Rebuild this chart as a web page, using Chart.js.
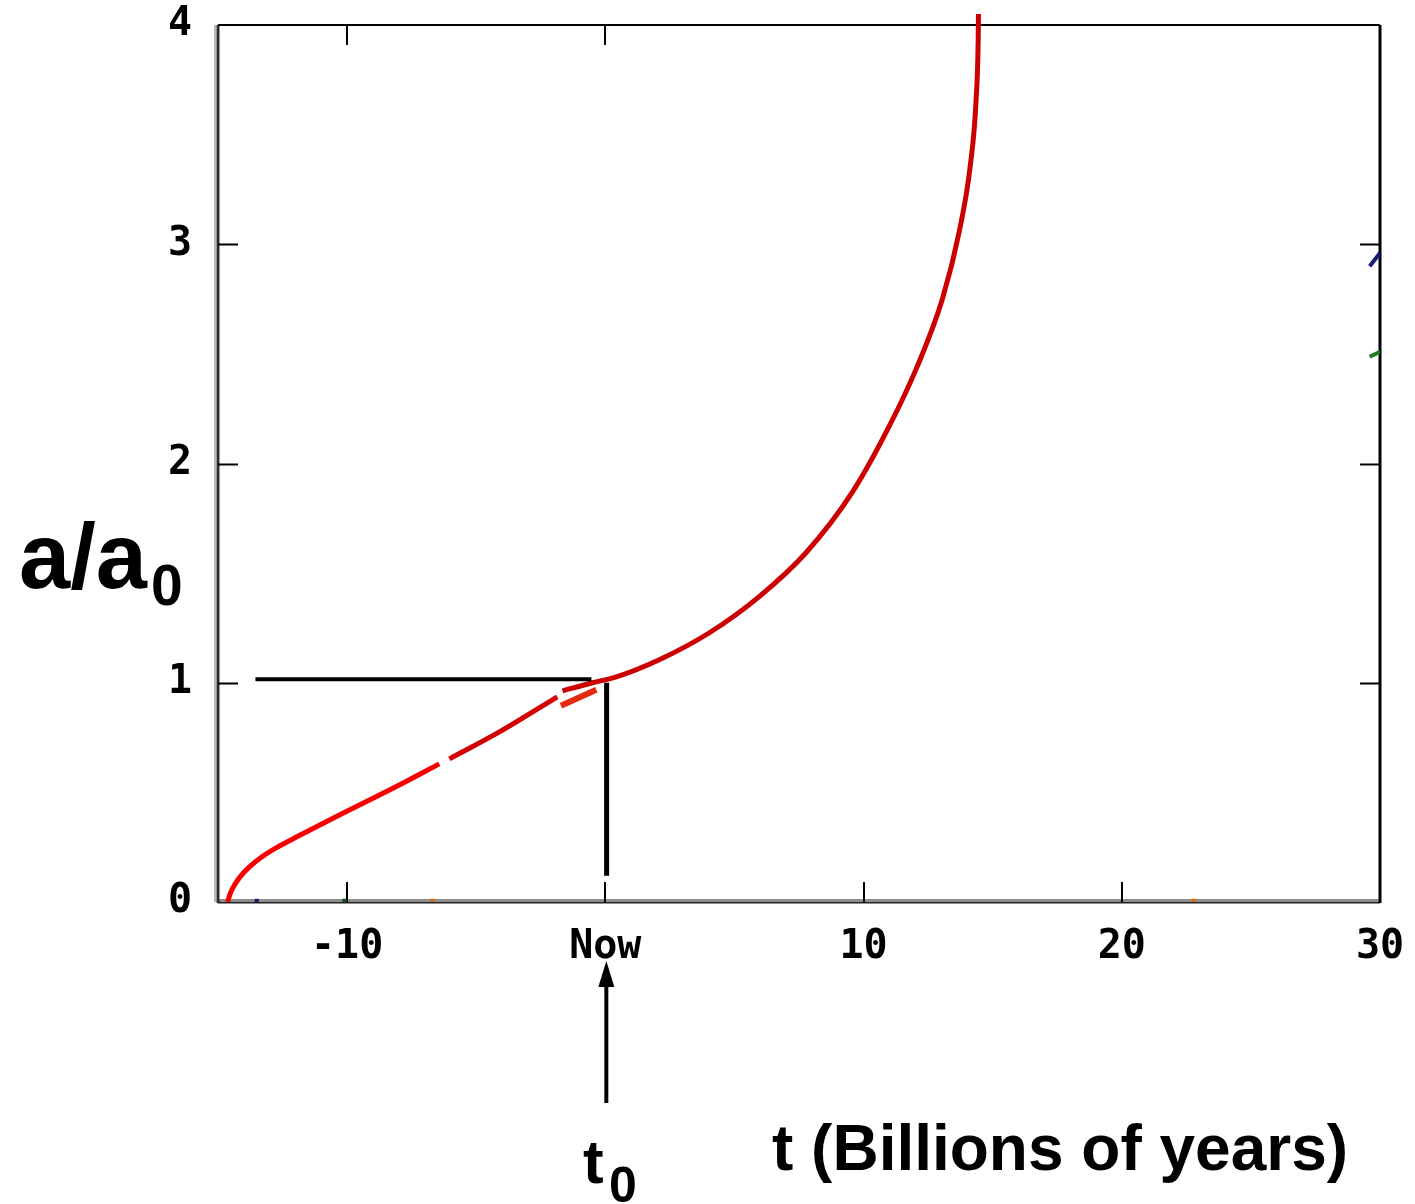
<!DOCTYPE html>
<html>
<head>
<meta charset="utf-8">
<script src="https://cdn.jsdelivr.net/npm/chart.js@4/dist/chart.umd.min.js"></script>
<style>
  html, body { margin: 0; padding: 0; background: #fff; }
  #wrap { position: relative; width: 1415px; height: 1204px; overflow: hidden; }
  canvas { position: absolute; left: 0; top: 0; }
  .lbl { position: absolute; font-family: "Liberation Sans", Arial, sans-serif; font-weight: bold; color: #000; line-height: 1; white-space: nowrap; }
</style>
</head>
<body>
<div id="wrap">
  <canvas id="c" width="1415" height="1204"></canvas>
  <div class="lbl" style="left:19px; top:510px; font-size:92px;">a/a</div>
  <div class="lbl" style="left:151px; top:557px; font-size:57px;">0</div>
  <div class="lbl" style="left:772px; top:1116px; font-size:64px;">t (Billions of years)</div>
  <div class="lbl" style="left:583px; top:1131px; font-size:62px;">t</div>
  <div class="lbl" style="left:609px; top:1160px; font-size:50px;">0</div>
</div>
<script>
// Axis ticks
const xTickValues = [-10, 0, 10, 20, 30];
const xTickLabels = ['-10', 'Now', '10', '20', '30'];
const yTickValues = [0, 1, 2, 3, 4];

// Scale factor a/a0 against time t (billions of years)
const earlyT = [-14.63, -14.52, -14.36, -14.13, -13.78, -13.32, -12.70, -11.85, -10.30, -7.98, -6.43];
const earlyA = [0.0, 0.041, 0.078, 0.117, 0.160, 0.204, 0.250, 0.303, 0.397, 0.534, 0.630];
const midT = [-6.04, -4.10, -1.86];
const midA = [0.653, 0.776, 0.936];
const futureT = [-1.66, -0.50, 0.43, 2.09, 4.03, 5.96, 7.78, 9.56, 10.99, 12.08, 13.05, 13.70, 14.13, 14.36, 14.44, 14.45];
const futureA = [0.963, 1.0, 1.027, 1.105, 1.228, 1.393, 1.594, 1.868, 2.169, 2.443, 2.749, 3.055, 3.356, 3.662, 3.936, 4.05];
const smearT = [-1.72, -0.35];
const smearA = [0.895, 0.968];

// Reference lines marking today (t0, a0)
const nowLevelT = [-13.55, -0.54];
const nowLevelA = [1.016, 1.016];
const nowDropT = [0.05, 0.05];
const nowDropA = [1.0, 0.12];

// Short pieces of other curves at the right edge
const blueT = [29.6, 30];
const blueA = [2.90, 2.96];
const greenT = [29.6, 30];
const greenA = [2.487, 2.51];

// Small marks sitting on the time axis
const axisMarkT = [-13.5, -10.1, -6.7, 22.8];
const axisMarkA = [0.005, 0.005, 0.005, 0.005];
const axisMarkColors = ['#1a1a6e', '#1f4a1f', '#e06a10', '#e06a10'];

const pts = (xs, ys) => xs.map((x, i) => ({ x: x, y: ys[i] }));

function line(data, color, width, extra) {
  return Object.assign({
    type: 'line', data: data, borderColor: color, backgroundColor: color,
    borderWidth: width, pointRadius: 0, fill: false, tension: 0, borderCapStyle: 'butt'
  }, extra || {});
}
const smooth = { cubicInterpolationMode: 'monotone' };

function noPadding(s) {
  s.paddingTop = 0; s.paddingBottom = 0; s.paddingLeft = 0; s.paddingRight = 0;
}

const framePlugin = {
  id: 'frame',
  beforeDatasetsDraw(chart) {
    const ctx = chart.ctx, a = chart.chartArea;
    const xs = chart.scales.x, ys = chart.scales.y;
    ctx.save();
    // soft halo on the left and bottom edges
    ctx.strokeStyle = '#b8b8b8'; ctx.lineWidth = 2;
    ctx.beginPath(); ctx.moveTo(a.left - 3, a.top); ctx.lineTo(a.left - 3, a.bottom); ctx.stroke();
    ctx.strokeStyle = '#8c8c8c'; ctx.lineWidth = 2;
    ctx.beginPath(); ctx.moveTo(a.left, a.bottom - 2); ctx.lineTo(a.right, a.bottom - 2); ctx.stroke();
    // plot border
    ctx.strokeStyle = '#2e2e2e'; ctx.lineWidth = 3;
    ctx.beginPath(); ctx.moveTo(a.left, a.top); ctx.lineTo(a.left, a.bottom + 1); ctx.stroke();
    ctx.strokeStyle = '#222'; ctx.lineWidth = 2;
    ctx.beginPath(); ctx.moveTo(a.left, a.bottom + 0.5); ctx.lineTo(a.right, a.bottom + 0.5); ctx.stroke();
    ctx.strokeStyle = '#000'; ctx.lineWidth = 2;
    ctx.beginPath(); ctx.moveTo(a.left, a.top); ctx.lineTo(a.right, a.top); ctx.stroke();
    ctx.strokeStyle = '#000'; ctx.lineWidth = 3;
    ctx.beginPath(); ctx.moveTo(a.right, a.top); ctx.lineTo(a.right, a.bottom + 1); ctx.stroke();
    // inward tick marks
    ctx.strokeStyle = '#000'; ctx.lineWidth = 2;
    [1, 2, 3].forEach(v => {
      const y = Math.round(ys.getPixelForValue(v)) + 0.5;
      ctx.beginPath(); ctx.moveTo(a.left, y); ctx.lineTo(a.left + 20, y); ctx.stroke();
      ctx.beginPath(); ctx.moveTo(a.right - 20, y); ctx.lineTo(a.right, y); ctx.stroke();
    });
    [-10, 0, 10, 20].forEach(v => {
      const x = Math.round(xs.getPixelForValue(v));
      ctx.beginPath(); ctx.moveTo(x, a.bottom); ctx.lineTo(x, a.bottom - 20); ctx.stroke();
    });
    [-10, 0].forEach(v => {
      const x = Math.round(xs.getPixelForValue(v));
      ctx.beginPath(); ctx.moveTo(x, a.top); ctx.lineTo(x, a.top + 20); ctx.stroke();
    });
    ctx.restore();
  },
  afterDraw(chart) {
    // arrow pointing up at "Now"
    const ctx = chart.ctx;
    const x = chart.scales.x.getPixelForValue(0) + 1;
    ctx.save();
    ctx.strokeStyle = '#000'; ctx.fillStyle = '#000'; ctx.lineWidth = 4;
    ctx.beginPath(); ctx.moveTo(x, 1103); ctx.lineTo(x, 984); ctx.stroke();
    ctx.beginPath(); ctx.moveTo(x, 961); ctx.lineTo(x - 8, 987); ctx.lineTo(x + 8, 987); ctx.closePath(); ctx.fill();
    ctx.restore();
  }
};

new Chart(document.getElementById('c'), {
  data: {
    datasets: [
      line(pts(nowLevelT, nowLevelA), '#000', 4),
      line(pts(nowDropT, nowDropA), '#000', 5),
      line(pts(smearT, smearA), '#e42a10', 6),
      line(pts(earlyT, earlyA), '#f80000', 5, smooth),
      line(pts(midT, midA), '#d20000', 5, smooth),
      line(pts(futureT, futureA), '#cc0000', 5, Object.assign({ clip: false }, smooth)),
      line(pts(blueT, blueA), '#141e78', 4),
      line(pts(greenT, greenA), '#1f7a1f', 4),
      {
        type: 'scatter', data: pts(axisMarkT, axisMarkA),
        pointStyle: 'rect', pointRadius: 3, borderWidth: 0,
        pointBackgroundColor: axisMarkColors, backgroundColor: axisMarkColors
      }
    ]
  },
  options: {
    responsive: false,
    animation: false,
    events: [],
    layout: { padding: { top: 25, right: 35, left: 0, bottom: 0 } },
    plugins: { legend: { display: false }, tooltip: { enabled: false } },
    scales: {
      x: {
        type: 'linear', position: 'bottom', min: -15, max: 30,
        afterFit(s) { s.height = 302; noPadding(s); },
        afterBuildTicks(s) { s.ticks = xTickValues.map(v => ({ value: v })); },
        grid: { display: false, drawTicks: false },
        border: { display: false },
        ticks: {
          padding: 22, color: '#000',
          font: { family: 'DejaVu Sans Mono', size: 40, weight: 'bold' },
          callback: (v) => xTickLabels[xTickValues.indexOf(v)]
        }
      },
      y: {
        type: 'linear', min: 0, max: 4,
        afterFit(s) { s.width = 218; noPadding(s); },
        afterBuildTicks(s) { s.ticks = yTickValues.map(v => ({ value: v })); },
        grid: { display: false, drawTicks: false },
        border: { display: false },
        ticks: {
          padding: 26, color: '#000',
          font: { family: 'DejaVu Sans Mono', size: 40, weight: 'bold' }
        }
      }
    }
  },
  plugins: [framePlugin]
});
</script>
</body>
</html>
